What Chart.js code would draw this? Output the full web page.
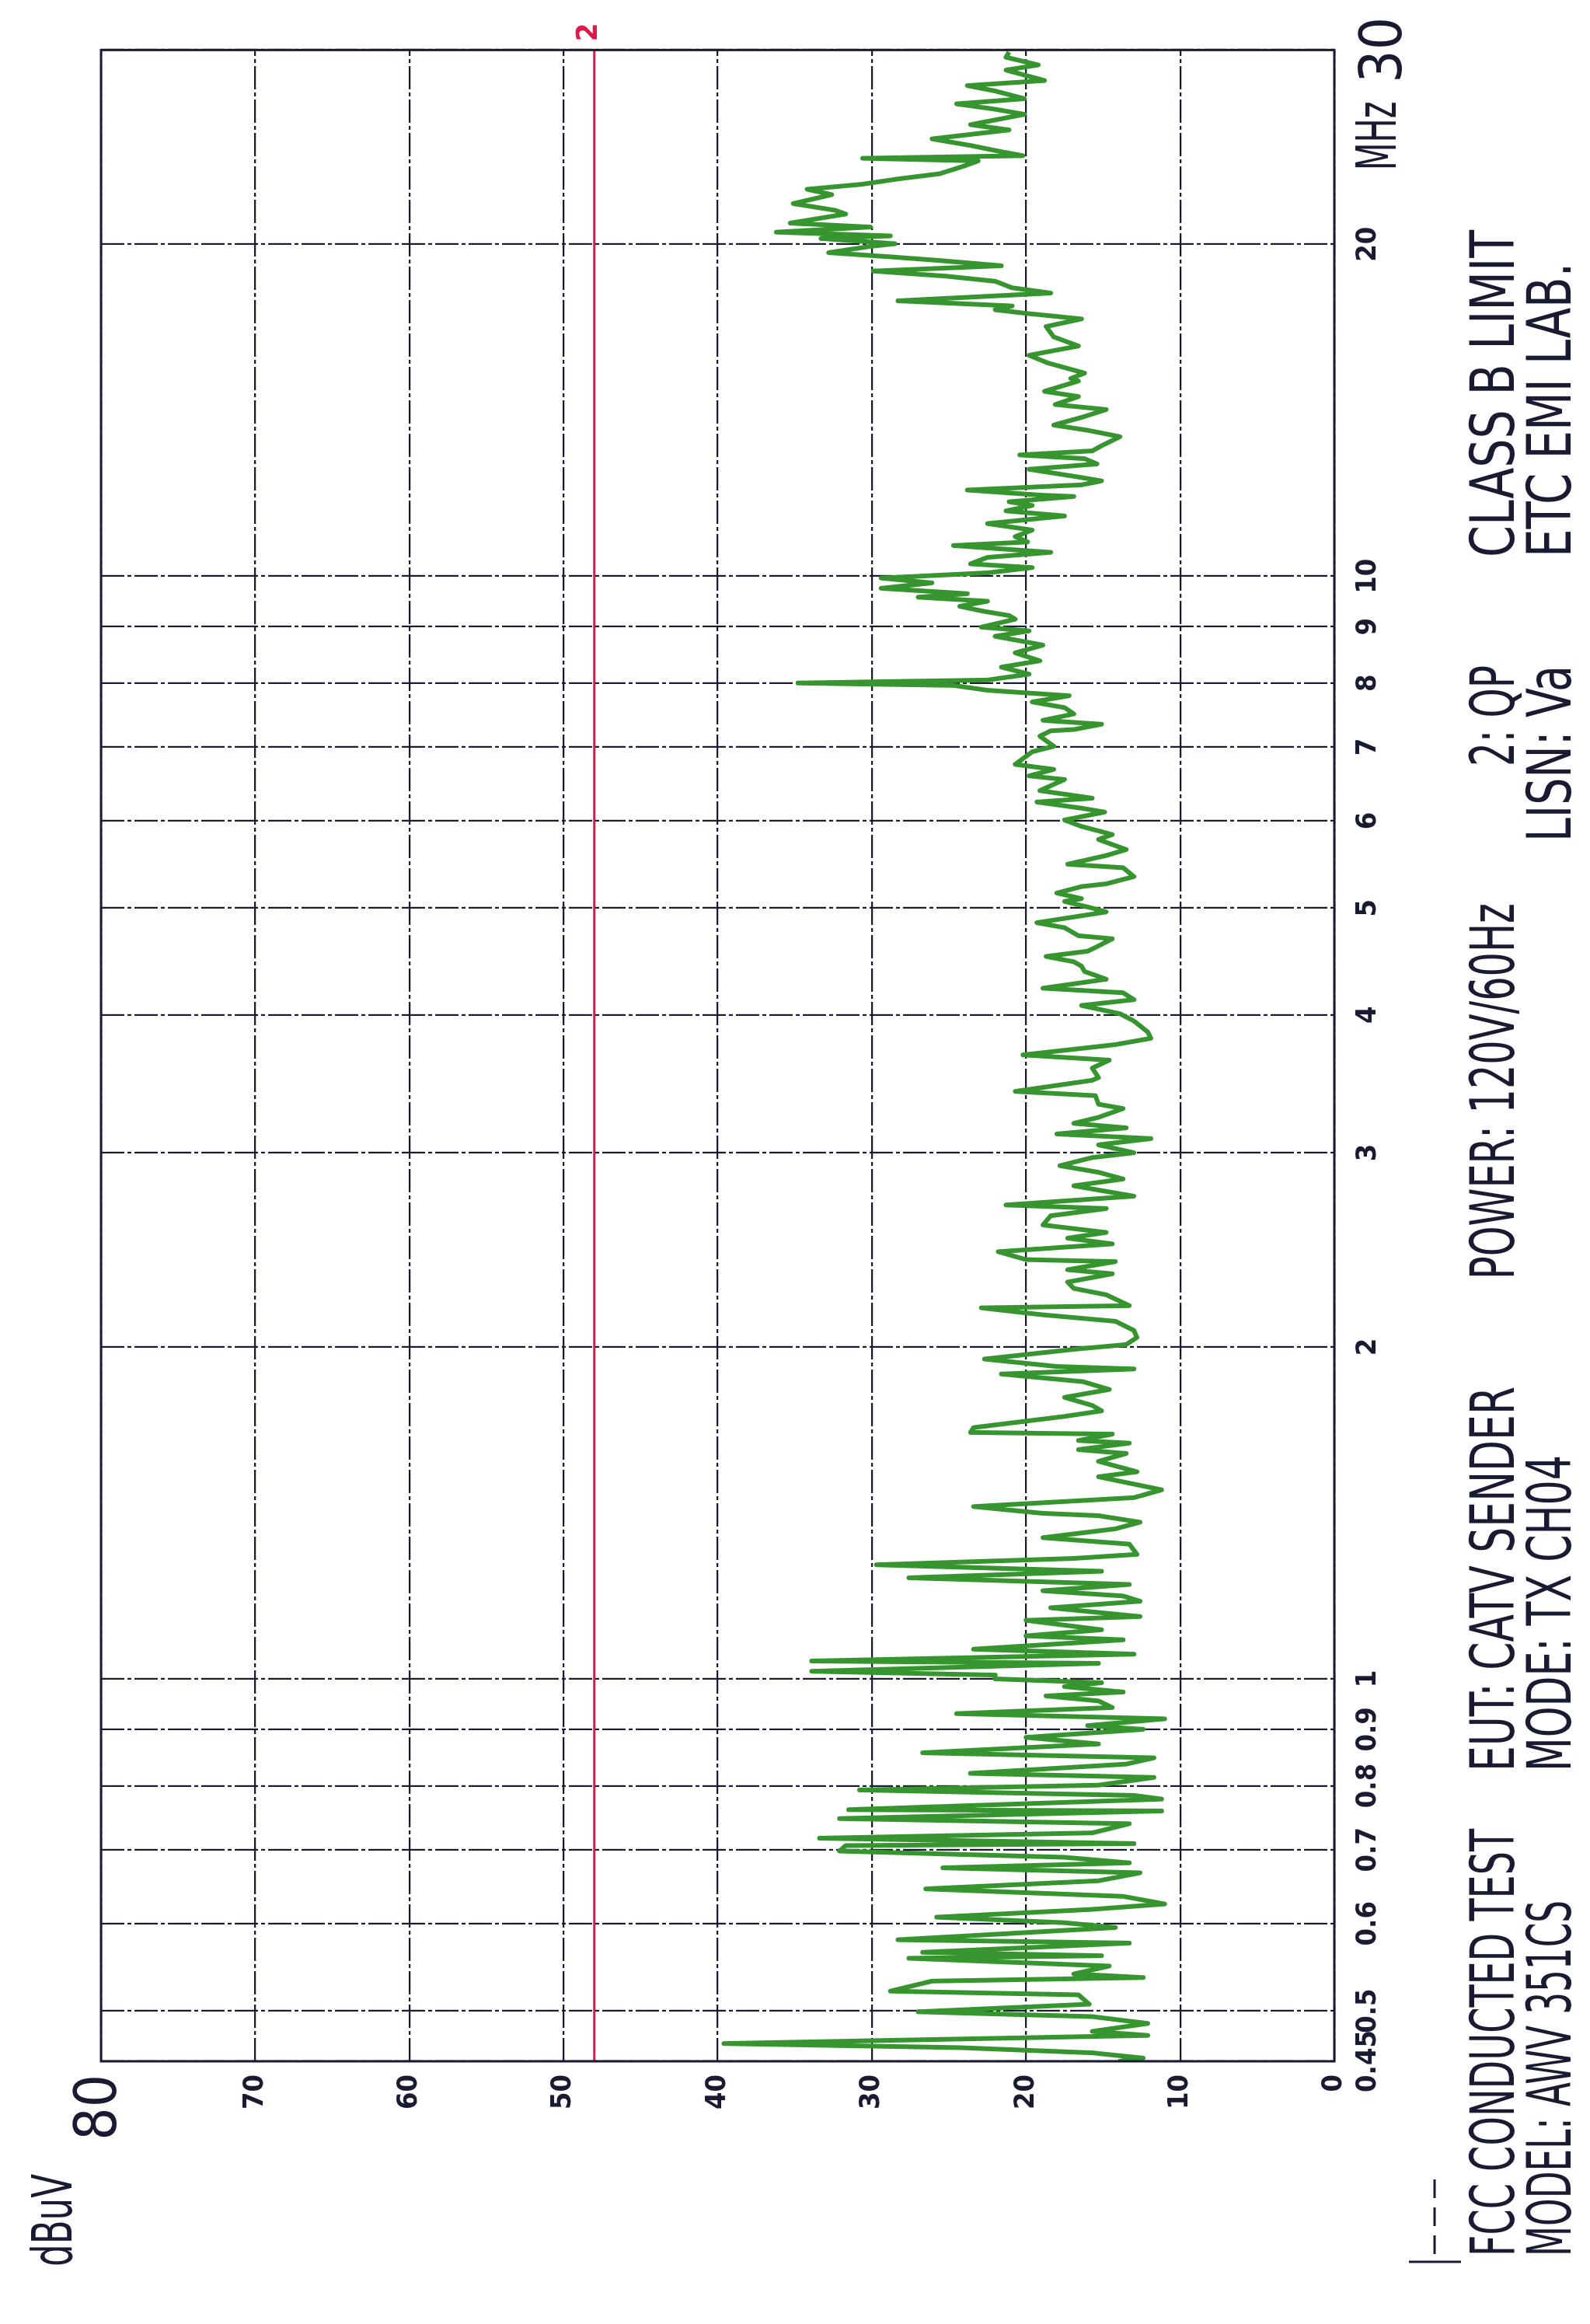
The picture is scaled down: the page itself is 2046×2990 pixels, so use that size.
<!DOCTYPE html>
<html>
<head>
<meta charset="utf-8">
<script src="https://cdn.jsdelivr.net/npm/chart.js@4.4.1/dist/chart.umd.min.js"></script>
<style>
  html, body { margin: 0; padding: 0; background: #ffffff; }
  #page { position: relative; width: 2046px; height: 2990px; overflow: hidden; background: #ffffff; }
  #rot { position: absolute; left: 0; top: 0; width: 2990px; height: 2046px;
         transform-origin: 0 0; transform: translate(0px, 2990px) rotate(-90deg); }
  #c { display: block; width: 2990px; height: 2046px; }
</style>
</head>
<body>
<div id="page"><div id="rot"><canvas id="c" width="2990" height="2046"></canvas></div></div>
<script>
// ---------------- DATA ----------------
// Frequency axis (MHz, log) ticks
const freqTicks = [0.45, 0.5, 0.6, 0.7, 0.8, 0.9, 1, 2, 3, 4, 5, 6, 7, 8, 9, 10, 20, 30];
const freqTickLabels = ['0.45', '0.5', '0.6', '0.7', '0.8', '0.9', '1', '2', '3', '4', '5', '6', '7', '8', '9', '10', '20', '30'];
// Level axis (dBuV) ticks
const levelTicks = [0, 10, 20, 30, 40, 50, 60, 70, 80];
const levelTickLabels = ['0', '10', '20', '30', '40', '50', '60', '70', '80'];

// Measured trace (scan from 30 MHz down to 0.45 MHz)
const freqMHz = [
 29.87,29.55,29.08,28.77,28.15,27.85,27.54,27.10,26.81,26.51,26.23,25.67,25.39,24.92,24.58,24.32,24.06,23.93,23.80,23.55,
 23.17,22.92,22.67,22.43,22.18,21.77,21.47,21.30,20.90,20.73,20.51,20.35,20.24,20.02,19.91,19.65,19.48,19.33,19.12,18.91,
 18.71,18.51,18.26,18.06,17.77,17.58,17.44,17.30,17.11,16.84,16.48,16.17,15.86,15.61,15.28,15.11,
 15.03,14.71,14.55,14.31,14.16,13.93,13.71,13.56,13.38,13.13,12.99,12.88,12.78,12.64,12.50,12.30,12.20,12.10,11.97,11.84,
 11.81,11.68,11.59,11.46,11.34,11.16,11.01,10.86,10.74,10.66,10.51,10.40,10.26,10.18,10.07,9.96,9.86,9.75,9.64,9.57,
 9.49,9.39,9.29,9.21,9.14,8.99,8.92,8.82,8.66,8.52,8.38,8.27,8.15,8.05,8.00,7.96,7.88,7.79,7.69,7.60,
 7.50,7.40,7.34,7.26,
 7.24,7.16,7.01,6.93,6.75,6.68,6.59,6.54,6.39,6.29,6.24,6.16,6.11,6.01,5.93,5.83,5.77,5.65,5.58,5.48,
 5.44,5.34,5.26,5.23,5.16,5.10,5.07,5.00,4.96,4.85,4.80,4.72,4.69,4.62,4.57,4.52,4.47,4.43,4.38,4.31,
 4.23,4.19,4.13,4.08,4.01,3.95,3.91,3.86,3.81,3.76,3.68,3.64,3.58,3.51,
 3.49,3.41,3.38,3.32,3.29,3.23,3.19,3.16,3.12,3.09,3.05,3.00,2.97,2.92,2.88,2.84,2.80,2.74,2.69,2.67,
 2.63,2.58,2.54,2.51,2.48,2.44,2.40,2.39,2.35,2.33,2.29,2.26,2.23,2.18,2.17,2.14,2.11,2.07,2.04,2.01,
 1.99,1.95,1.92,1.91,1.89,1.86,1.83,1.80,1.77,1.75,1.73,1.69,
 1.673,1.667,1.645,1.636,1.614,1.601,1.575,1.541,1.525,1.484,1.460,1.433,1.413,1.406,1.387,1.368,1.343,1.325,1.297,1.286,
 1.269,1.252,1.235,1.218,1.202,1.189,1.176,1.160,1.139,1.130,1.108,1.094,1.085,1.064,1.053,1.038,1.033,1.016,1.008,1.000,
 0.992,0.984,0.973,0.965,0.955,0.942,0.930,0.920,0.907,0.900,0.885,0.873,0.857,0.848,0.837,0.821,0.814,
 0.801,0.793,0.784,0.778,0.761,0.759,0.747,0.739,0.725,0.717,0.709,0.706,0.698,0.689,0.681,0.674,0.667,0.656,0.645,0.635,
 0.625,0.618,0.608,0.601,0.595,0.580,0.576,0.565,0.561,0.558,0.549,0.540,0.536,0.532,0.521,0.517,0.507,0.499,0.494,0.487,
 0.479,0.475,0.467,0.463,0.458,0.453,0.450
];
const levelDbuv = [
 21.1,21.3,19.2,21.3,18.8,23.8,22.0,20.1,24.5,22.0,20.1,23.6,21.1,26.1,23.6,22.0,20.2,30.6,23.1,24.0,
 25.6,28.3,30.6,34.2,32.6,35.1,32.4,31.7,35.3,30.1,36.2,28.8,33.3,28.5,30.1,32.8,28.8,25.6,21.6,29.9,
 25.2,22.0,20.9,18.4,28.3,20.9,22.0,19.8,16.4,18.7,18.2,16.6,19.8,18.6,16.2,17.1,
 16.6,18.8,16.6,18.1,14.8,16.4,18.2,16.0,13.9,15.1,15.7,20.4,16.2,15.4,19.8,16.6,15.1,16.4,23.8,18.9,
 16.9,21.1,19.6,21.3,17.5,22.5,19.6,20.7,19.9,24.7,18.4,22.5,23.6,19.6,22.5,29.4,26.1,29.4,23.8,27.0,
 22.5,24.3,22.7,21.1,20.7,22.9,19.8,22.0,18.9,20.7,19.1,21.6,19.8,22.5,34.8,24.7,22.5,17.2,19.6,17.5,
 16.9,18.9,15.1,16.9,
 18.4,19.1,18.2,19.6,20.7,18.2,19.8,17.5,19.1,15.7,19.3,16.4,14.9,17.5,16.4,14.4,15.3,13.5,14.8,17.3,
 13.7,13.0,14.8,16.4,18.0,16.4,17.5,15.7,14.8,19.3,17.5,16.6,14.4,15.3,16.0,18.7,16.9,16.4,16.2,14.8,
 18.9,13.7,13.0,16.4,13.9,13.0,12.6,12.1,11.9,14.2,20.2,14.6,15.7,15.3,
 15.7,20.7,15.5,15.3,13.7,15.3,16.9,13.5,18.0,11.9,15.3,13.0,15.7,17.8,15.3,13.7,16.9,13.0,21.3,14.8,
 18.4,18.9,14.8,17.3,14.4,21.8,20.0,14.2,17.3,14.4,17.3,16.9,14.8,13.3,22.9,19.1,14.2,13.0,12.8,13.5,
 16.9,22.7,18.0,13.0,21.6,16.3,14.6,17.5,15.7,15.1,17.5,23.4,
 23.6,14.4,16.6,13.3,16.6,13.5,15.3,12.8,15.3,11.2,13.0,23.4,18.9,15.3,12.6,14.2,18.9,13.3,12.8,16.9,
 29.7,15.1,27.6,13.3,18.9,13.7,12.6,18.4,12.6,20.0,15.1,20.0,13.7,23.4,13.0,33.9,15.3,33.9,22.0,22.0,
 15.1,17.5,13.7,18.7,15.3,14.4,24.5,11.0,16.0,12.4,20.0,15.3,26.7,11.7,13.5,23.6,11.7,
 15.3,30.8,13.0,11.2,31.5,11.2,32.1,13.3,15.7,33.4,13.0,31.7,32.1,17.5,13.3,25.4,12.6,15.3,26.5,13.7,
 11.0,15.7,25.8,17.5,14.2,28.3,13.3,26.7,15.1,27.6,14.6,16.9,12.4,26.1,28.8,16.6,15.9,27.0,15.7,12.1,
 15.7,12.1,39.6,24.3,15.7,12.4,14.0
];

// Class B QP limit line
const limitFreq = [0.45, 30];
const limitLevel = [48, 48];

// Annotation texts
const unitLabel = 'dBuV';
const freqUnitLabel = 'MHz';
const limitTag = '2';
const footerLine1 = ['FCC CONDUCTED TEST', 'EUT: CATV SENDER', 'POWER: 120V/60Hz', '2: QP', 'CLASS B LIMIT'];
const footerLine2 = ['MODEL: AWV 351CS', 'MODE: TX CH04', 'LISN: Va', 'ETC EMI LAB.'];

// ---------------- LAYOUT / STYLE ----------------
const NARROW = "'Liberation Sans Narrow', 'DejaVu Sans Condensed', 'DejaVu Sans', sans-serif";
const COND = "'DejaVu Sans Condensed', 'Liberation Sans Narrow', 'DejaVu Sans', sans-serif";
const INK = '#1a1a32';
const smallFont = { family: NARROW, size: 36, weight: 'bold' };
const bigFont = { family: COND, size: 74, weight: 'normal' };

// footer: [startU, endU] spans for each phrase
const footerSpans1 = [[87, 637], [711, 1206], [1344, 1828], [2004, 2134], [2273, 2694]];
const footerSpans2 = [[87, 545], [711, 1118], [1907, 2134], [2273, 2652]];

function drawFitted(ctx, text, x0, x1, baseline, font) {
  ctx.save();
  ctx.font = font;
  const w = ctx.measureText(text).width;
  const sx = (x1 - x0) / w;
  ctx.translate(x0, baseline);
  ctx.scale(sx, 1);
  ctx.textAlign = 'left';
  ctx.textBaseline = 'alphabetic';
  ctx.fillText(text, 0, 0);
  ctx.restore();
}

const extras = {
  id: 'extras',
  afterDraw(chart) {
    const ctx = chart.ctx;
    const a = chart.chartArea;
    ctx.save();
    // frame
    ctx.strokeStyle = INK;
    ctx.lineWidth = 3;
    ctx.setLineDash([]);
    ctx.strokeRect(a.left, a.top, a.right - a.left, a.bottom - a.top);

    ctx.fillStyle = INK;
    const footFont = "normal 78px " + COND;
    drawFitted(ctx, unitLabel, 74, 193, 92, "normal 72px " + COND);
    const x30 = chart.scales.x.getPixelForValue(30);
    drawFitted(ctx, freqUnitLabel, x30 - 155, x30 - 66, 1796, "normal 72px " + COND);

    footerLine1.forEach((t, i) => drawFitted(ctx, t, footerSpans1[i][0], footerSpans1[i][1], 1948, footFont));
    footerLine2.forEach((t, i) => drawFitted(ctx, t, footerSpans2[i][0], footerSpans2[i][1], 2021, footFont));

    // legend marker
    ctx.strokeStyle = INK;
    ctx.lineWidth = 3;
    ctx.beginPath();
    ctx.moveTo(80, 1813); ctx.lineTo(80, 1880);
    ctx.stroke();
    ctx.setLineDash([24, 12]);
    ctx.beginPath();
    ctx.moveTo(90, 1846); ctx.lineTo(192, 1846);
    ctx.stroke();
    ctx.setLineDash([]);

    // limit tag
    const yLim = chart.scales.y.getPixelForValue(limitLevel[1]);
    ctx.fillStyle = '#e3154a';
    ctx.font = "bold 38px " + NARROW;
    ctx.textAlign = 'left';
    ctx.textBaseline = 'middle';
    ctx.fillText(limitTag, a.right + 11, yLim - 7);
    ctx.restore();
  }
};

const traceData = freqMHz.map((f, i) => ({ x: f, y: levelDbuv[i] }));
const limitData = limitFreq.map((f, i) => ({ x: f, y: limitLevel[i] }));

new Chart(document.getElementById('c'), {
  type: 'line',
  data: {
    datasets: [
      { label: 'QP limit', data: limitData, borderColor: '#e3154a', borderWidth: 3, pointRadius: 0, tension: 0 },
      { label: 'Trace', data: traceData, borderColor: '#379530', borderWidth: 6, pointRadius: 0, tension: 0,
        borderJoinStyle: 'round' }
    ]
  },
  options: {
    responsive: false,
    animation: false,
    devicePixelRatio: 1,
    layout: { padding: { left: 0, right: 64, top: 130, bottom: 0 } },
    plugins: { legend: { display: false }, tooltip: { enabled: false } },
    scales: {
      x: {
        type: 'logarithmic',
        position: 'bottom',
        min: 0.45,
        max: 30,
        afterBuildTicks: (s) => { s.ticks = freqTicks.map(v => ({ value: v })); },
        afterFit: (s) => { s.height = 329; },
        grid: { color: INK, lineWidth: 2.2, drawTicks: false },
        border: { display: false, dash: [30, 4, 5, 4] },
        ticks: {
          autoSkip: false, maxRotation: 0, minRotation: 0, padding: 22, color: INK,
          font: (c) => (c.tick && c.tick.value === 30) ? bigFont : smallFont,
          callback: (v, i) => freqTickLabels[i]
        }
      },
      y: {
        type: 'linear',
        position: 'left',
        min: 0,
        max: 80,
        afterBuildTicks: (s) => { s.ticks = levelTicks.map(v => ({ value: v })); },
        afterFit: (s) => { s.width = 338; },
        grid: { color: INK, lineWidth: 2.2, drawTicks: false },
        border: { display: false, dash: [30, 4, 5, 4] },
        ticks: {
          padding: 17, color: INK,
          font: (c) => (c.tick && c.tick.value === 80) ? bigFont : smallFont,
          callback: (v, i) => levelTickLabels[i]
        }
      }
    }
  },
  plugins: [extras]
});
</script>
</body>
</html>
